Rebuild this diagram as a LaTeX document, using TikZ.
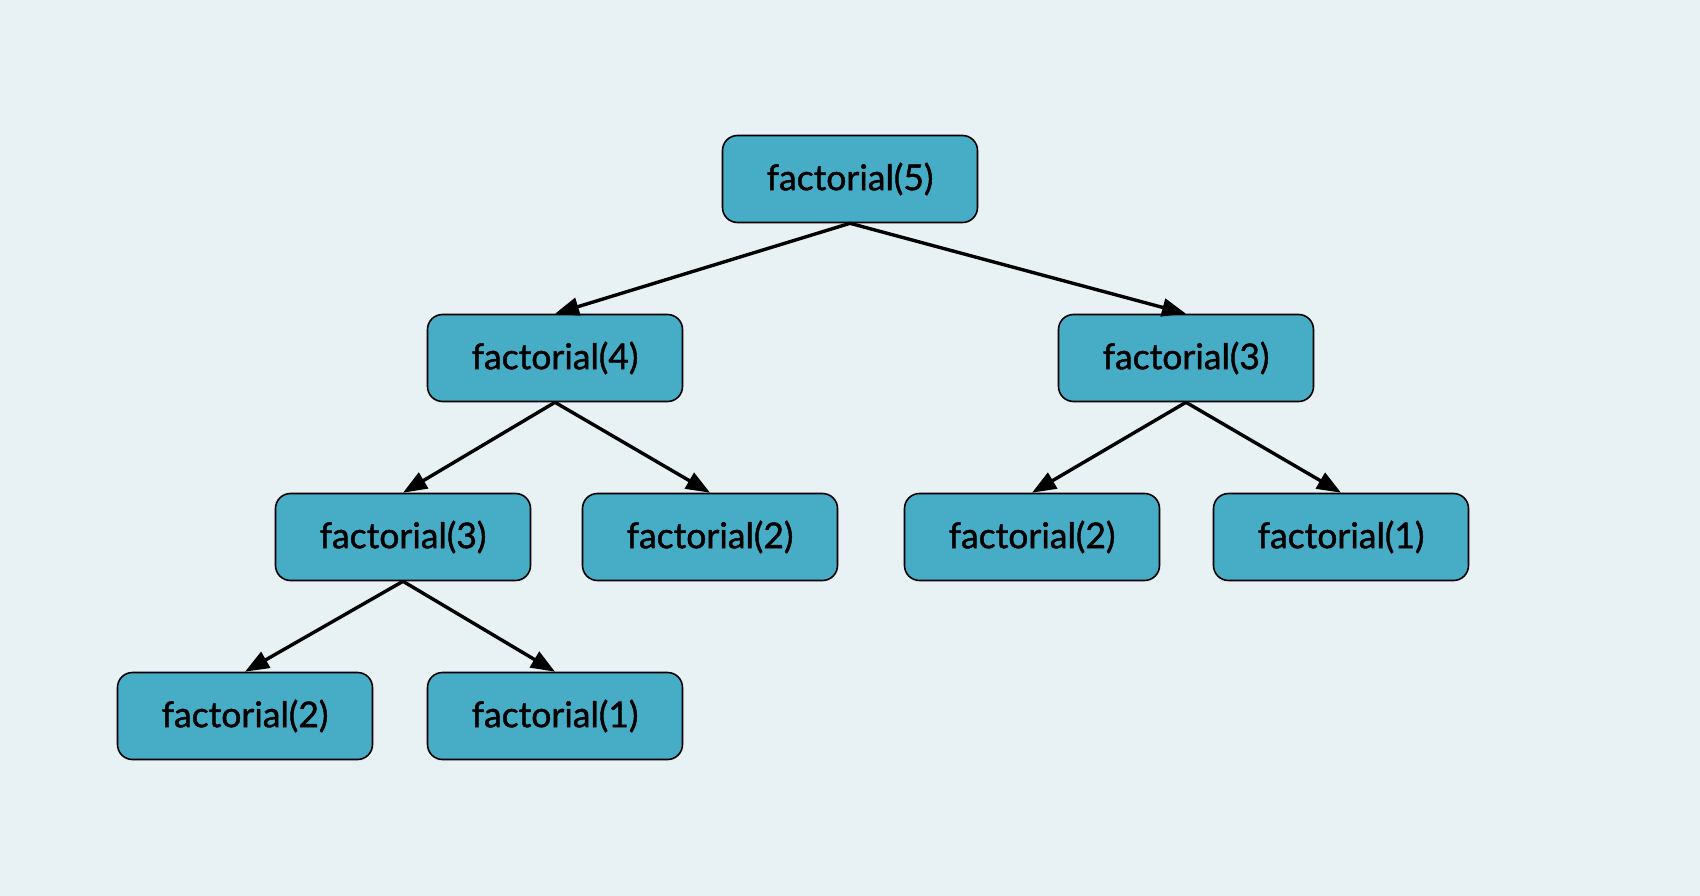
\documentclass[tikz,border=0pt]{standalone}
\usepackage{fontspec}
\setmainfont{Lato}
\newfontfamily\lblfont[FakeBold=1.3]{Lato}
\usetikzlibrary{arrows.meta}
\definecolor{bgc}{HTML}{E8F2F4}
\definecolor{boxc}{HTML}{47ADC7}
\begin{document}
\begin{tikzpicture}[x=1pt,y=-1pt,
  fbox/.style={draw=black,line width=1.6pt,fill=boxc,rounded corners=15pt,
    minimum width=255pt,minimum height=87pt,inner sep=0pt,
    font=\lblfont\fontsize{35.5}{42}\selectfont,text=black},
  conn/.style={draw=black,line width=3.4pt,-{Triangle[length=24pt,width=18pt]}}]
\fill[bgc] (0,0) rectangle (1700,896);
\useasboundingbox (0,0) rectangle (1700,896);
\node[fbox] (f5) at (850,179) {factorial(5)};
\node[fbox] (f4) at (555,358) {factorial(4)};
\node[fbox] (f3r) at (1186,358) {factorial(3)};
\node[fbox] (f3l) at (403,537) {factorial(3)};
\node[fbox] (f2a) at (710,537) {factorial(2)};
\node[fbox] (f2b) at (1032,537) {factorial(2)};
\node[fbox] (f1a) at (1341,537) {factorial(1)};
\node[fbox] (f2c) at (245,716) {factorial(2)};
\node[fbox] (f1b) at (555,716) {factorial(1)};
\draw[conn] (f5.south) -- (f4.north);
\draw[conn] (f5.south) -- (f3r.north);
\draw[conn] (f4.south) -- (f3l.north);
\draw[conn] (f4.south) -- (f2a.north);
\draw[conn] (f3r.south) -- (f2b.north);
\draw[conn] (f3r.south) -- (f1a.north);
\draw[conn] (f3l.south) -- (f2c.north);
\draw[conn] (f3l.south) -- (f1b.north);
\end{tikzpicture}
\end{document}
